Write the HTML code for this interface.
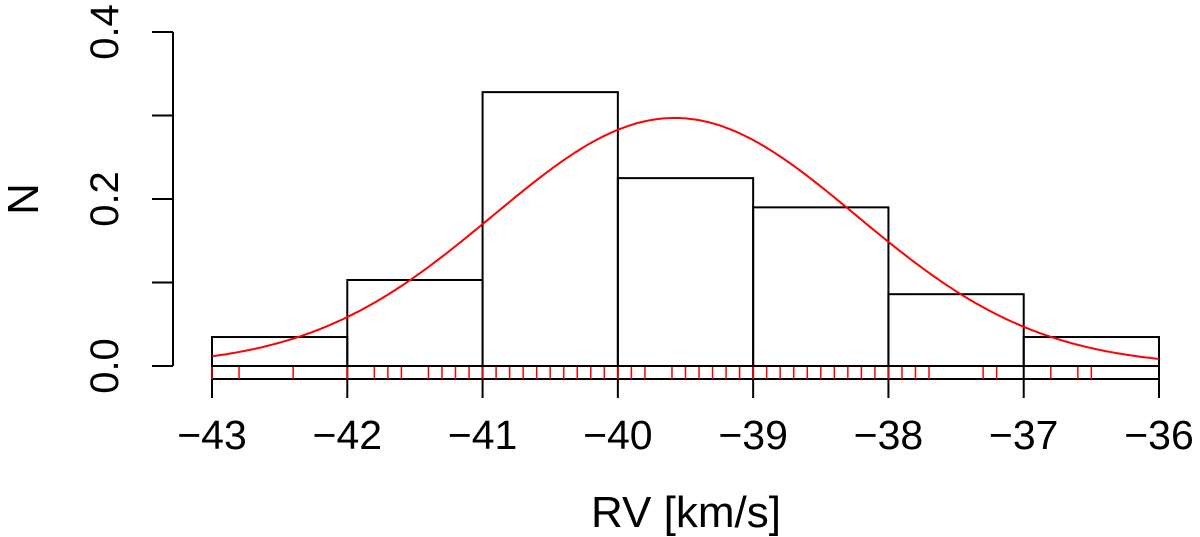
<!DOCTYPE html>
<html><head><meta charset="utf-8"><style>
html,body{margin:0;padding:0;background:#fff;width:1200px;height:537px;overflow:hidden}
svg{display:block;font-family:"Liberation Sans",Arial,sans-serif}
</style></head><body>
<svg id="chart" width="1200" height="537" viewBox="0 0 1200 537"></svg>
<script>
const binEdges = [-43,-42,-41,-40,-39,-38,-37,-36];
const binDensity = [0.0347,0.103,0.328,0.225,0.190,0.086,0.0347];
const rugValues = [-43,-42.8,-42.4,-42,-41.8,-41.7,-41.6,-41.4,-41.3,-41.2,-41.1,-41.0,-40.9,-40.8,-40.7,-40.6,-40.5,-40.4,-40.3,-40.2,-40.1,-40.0,-39.9,-39.8,-39.6,-39.5,-39.4,-39.3,-39.2,-39.1,-39.0,-38.9,-38.8,-38.7,-38.6,-38.5,-38.4,-38.3,-38.2,-38.1,-38.0,-37.9,-37.8,-37.7,-37.3,-37.2,-36.8,-36.6,-36.5];
const fitParams = [-39.58, 1.343]; // mean, sd
const xTicks = [-43,-42,-41,-40,-39,-38,-37,-36];
const yTicks = [0,0.1,0.2,0.3,0.4];
const yTickLabels = ["0.0","","0.2","","0.4"];

const NS="http://www.w3.org/2000/svg";
const svg=document.getElementById('chart');
const X=v=>212+(v+43)*(1159-212)/7;
const Y=v=>366-v*835;
function mk(t,a){const e=document.createElementNS(NS,t);for(const k in a)e.setAttribute(k,a[k]);svg.appendChild(e);return e;}

for(let i=0;i<binDensity.length;i++){
  const r=mk('rect',{x:X(binEdges[i]),y:Y(binDensity[i]),width:X(binEdges[i+1])-X(binEdges[i]),height:Y(0)-Y(binDensity[i]),fill:'none',stroke:'#000','stroke-width':2});
  
  
}
let ax=mk('line',{x1:X(-43),x2:X(-36),y1:379,y2:379,stroke:'#000','stroke-width':2});


xTicks.forEach(t=>{
  const l=mk('line',{x1:X(t),x2:X(t),y1:366,y2:398,stroke:'#000','stroke-width':2});
  
  
  const tx=mk('text',{x:X(t),y:449,'font-size':41,'text-anchor':'middle'});
  tx.textContent='\u2212'+Math.abs(t);
  
  
});
rugValues.forEach(v=>{
  const l=mk('line',{x1:X(v),x2:X(v),y1:367,y2:379,stroke:'#f00','stroke-width':1.5});
  
  
});
let ay=mk('line',{x1:173,x2:173,y1:Y(0),y2:Y(0.4),stroke:'#000','stroke-width':2});


yTicks.forEach((t,i)=>{
  const l=mk('line',{x1:152,x2:173,y1:Y(t),y2:Y(t),stroke:'#000','stroke-width':2});
  
  
  if(yTickLabels[i]){
    const tx=mk('text',{x:0,y:0,'font-size':40,'text-anchor':'middle',transform:`translate(118,${Y(t)}) rotate(-90)`});
    tx.textContent=yTickLabels[i];
    
    
  }
});
let d='';
for(let i=0;i<=300;i++){
  const v=-43+7*i/300;
  const p=Math.exp(-0.5*((v-fitParams[0])/fitParams[1])**2)/(fitParams[1]*Math.sqrt(2*Math.PI));
  d+=(i?'L':'M')+X(v).toFixed(1)+','+Y(p).toFixed(1);
}
const c=mk('path',{d:d,fill:'none',stroke:'#f00','stroke-width':2});


const xt=mk('text',{x:686,y:527,'font-size':44,'text-anchor':'middle'});
xt.textContent='RV [km/s]';


const yt=mk('text',{x:0,y:0,'font-size':44,'text-anchor':'middle',transform:'translate(38,199) rotate(-90)'});
yt.textContent='N';


</script>
</body></html>
